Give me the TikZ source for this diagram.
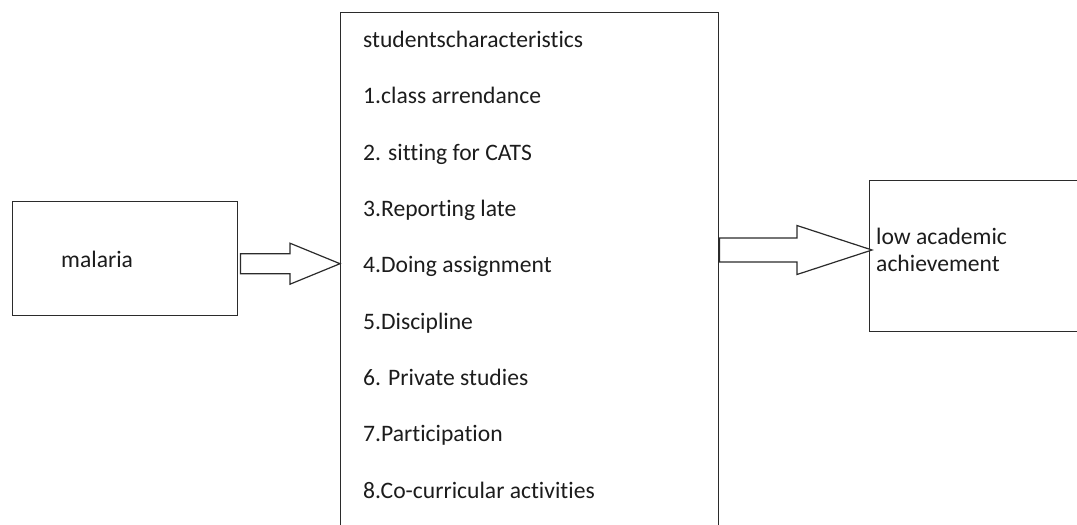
\documentclass[tikz,border=0pt]{standalone}
\usepackage{fontspec}
\setmainfont{Carlito}[Ligatures=CommonOff]
\usetikzlibrary{calc}
\definecolor{edge}{HTML}{2B2B2B}
\definecolor{ink}{HTML}{1C1C1C}
\begin{document}
\begin{tikzpicture}[x=1pt,y=-1pt,
  box/.style={draw=edge,line width=1.4pt,inner sep=0pt,anchor=north west},
  txt/.style={anchor=base west,inner sep=0pt,text=ink,font=\fontsize{23.6}{28}\selectfont},
  fat/.style={draw=edge,line width=1.2pt,fill=white,line join=miter}]
\useasboundingbox (0,0) rectangle (1077,525);
\clip (0,0) rectangle (1077,525);

% the three boxes
\node[box,minimum width=225pt,minimum height=114pt] (cause) at (12,201) {};
\node[box,minimum width=378pt,minimum height=540pt] (traits) at (340,12) {};
\node[box,minimum width=260pt,minimum height=151pt] (effect) at (869,180) {};

% box texts
\node[txt] (causetxt) at (61,267) {malaria};
\node[txt] (title) at (363,47) {studentscharacteristics};
\node[txt] (t1) at (363,103) {1.class arrendance};
\node[txt] (t2) at (363,160) {2. sitting for CATS};
\node[txt] (t3) at (363,216) {3.Reporting late};
\node[txt] (t4) at (363,272) {4.Doing assignment};
\node[txt] (t5) at (363,329) {5.Discipline};
\node[txt] (t6) at (363,385) {6. Private studies};
\node[txt] (t7) at (363,441) {7.Participation};
\node[txt] (t8) at (363,498) {8.Co-curricular activities};
\node[txt] (effecttxt1) at (876,244) {low academic};
\node[txt] (effecttxt2) at (876,271) {achievement};

% block arrows: start on the source box, tip on the target box
\coordinate (a1s) at ($(cause.east)+(2,5)$);
\coordinate (a1t) at (traits.west |- a1s);
\coordinate (a2s) at (traits.east |- 0,250);
\coordinate (a2t) at ($(effect.west |- a2s)+(3,0)$);

% #1 start, #2 tip, #3 shaft half-width, #4 head half-width, #5 head length
\newcommand\fatarrow[5]{%
  \draw[fat] ($(#1)+(0,-#3)$) -- ($(#2)+(-#5,-#3)$) -- ($(#2)+(-#5,-#4)$)
    -- (#2) -- ($(#2)+(-#5,#4)$) -- ($(#2)+(-#5,#3)$) -- ($(#1)+(0,#3)$) -- cycle;}
\fatarrow{a1s}{a1t}{10}{20.5}{50}
\fatarrow{a2s}{a2t}{12}{24.5}{75}
\end{tikzpicture}
\end{document}
